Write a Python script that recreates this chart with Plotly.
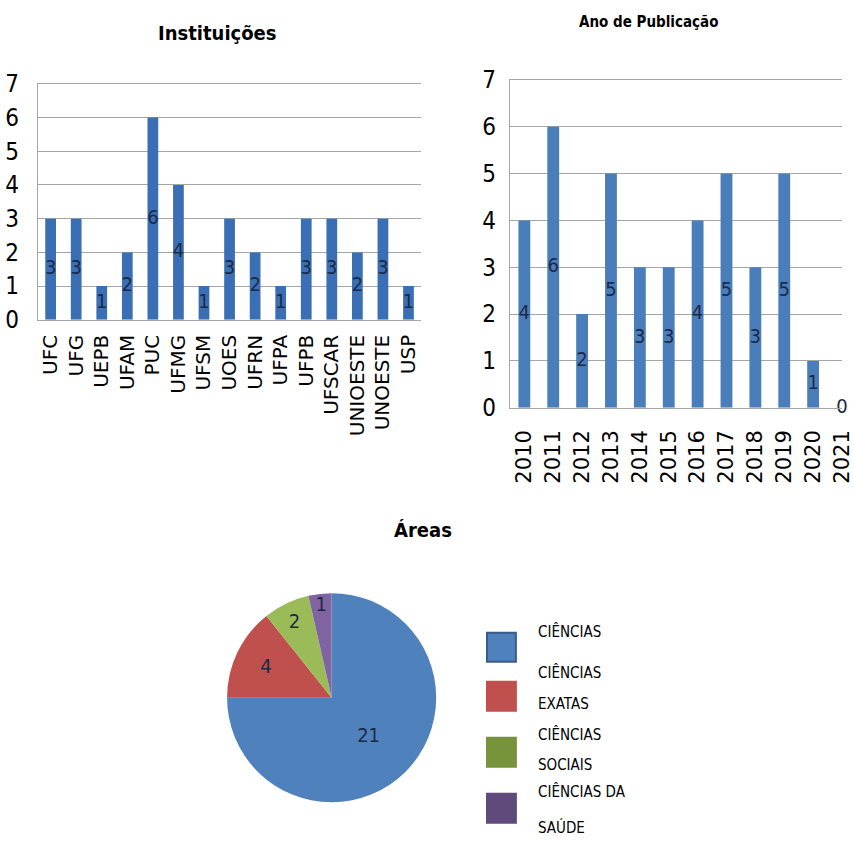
import plotly.graph_objects as go

# ---------------- data ----------------
inst_labels = ["UFC", "UFG", "UEPB", "UFAM", "PUC", "UFMG", "UFSM", "UOES",
               "UFRN", "UFPA", "UFPB", "UFSCAR", "UNIOESTE", "UNOESTE", "USP"]
inst_values = [3, 3, 1, 2, 6, 4, 1, 3, 2, 1, 3, 3, 2, 3, 1]

year_labels = ["2010", "2011", "2012", "2013", "2014", "2015", "2016",
               "2017", "2018", "2019", "2020", "2021"]
year_values = [4, 6, 2, 5, 3, 3, 4, 5, 3, 5, 1, 0]

area_labels = ["CIÊNCIAS", "CIÊNCIAS EXATAS", "CIÊNCIAS SOCIAIS", "CIÊNCIAS DA SAÚDE"]
area_values = [21, 4, 2, 1]
area_colors = ["#4F81BD", "#C0504D", "#9BBB59", "#8064A2"]
legend_colors = ["#4F81BD", "#C0504D", "#77933C", "#604A7B"]
legend_borders = ["#385D8A", "#C0504D", "#77933C", "#604A7B"]
legend_lines = [["CIÊNCIAS"], ["CIÊNCIAS", "EXATAS"], ["CIÊNCIAS", "SOCIAIS"],
                ["CIÊNCIAS DA", "SAÚDE"]]

W, H = 854, 842
# compensation for the capture scaling observed
SX, SY, OY = 0.99, 0.967, 14.6
NARROW = "DejaVu Sans Condensed, Roboto, sans-serif"
TICKX = "DejaVu Sans, Verdana, sans-serif"
LABEL_COLOR = "#1B2A47"
GRID = "#A6A6A6"


def px_x(x):
    return min(1.0, max(0.0, (x / SX) / W))


def px_y(y):
    return min(1.0, max(0.0, 1 - (y / SY - OY) / H))


fig = go.Figure()

# ---- Instituições bar chart ----
fig.add_trace(go.Bar(x=inst_labels, y=inst_values, marker=dict(color="#3A6FB5", line=dict(width=0)),
                     width=0.42, xaxis="x", yaxis="y", showlegend=False, hoverinfo="skip"))
fig.add_trace(go.Scatter(x=inst_labels, y=[v / 2 for v in inst_values], text=[str(v) for v in inst_values],
                         mode="text", textfont=dict(family=NARROW, size=20, color=LABEL_COLOR),
                         xaxis="x", yaxis="y", showlegend=False, cliponaxis=False, hoverinfo="skip"))

# ---- Ano de Publicação bar chart ----
fig.add_trace(go.Bar(x=year_labels, y=year_values, marker=dict(color="#4A7EBB", line=dict(width=0)),
                     width=0.41, xaxis="x2", yaxis="y2", showlegend=False, hoverinfo="skip"))
fig.add_trace(go.Scatter(x=year_labels, y=[v / 2 for v in year_values], text=[str(v) for v in year_values],
                         mode="text", textfont=dict(family=NARROW, size=20, color=LABEL_COLOR),
                         xaxis="x2", yaxis="y2", showlegend=False, cliponaxis=False, hoverinfo="skip"))

# ---- Áreas pie ----
d = 210
cx, cy = 333, 698
fig.add_trace(go.Pie(labels=area_labels, values=area_values, sort=False, direction="clockwise",
                     rotation=0, marker=dict(colors=area_colors, line=dict(width=0)),
                     textinfo="value", textposition="inside", insidetextorientation="horizontal",
                     textfont=dict(family=NARROW, size=20, color=LABEL_COLOR),
                     domain=dict(x=[px_x(cx - d / 2), px_x(cx + d / 2)],
                                 y=[px_y(cy + d / 2), px_y(cy - d / 2)]),
                     showlegend=False, hoverinfo="skip"))

axis_common = dict(showgrid=False, zeroline=False, ticks="", fixedrange=True)

fig.update_layout(
    width=W, height=H, margin=dict(l=0, r=0, t=0, b=0, pad=0),
    paper_bgcolor="white", plot_bgcolor="white",
    uniformtext=dict(minsize=18, mode="show"),
    xaxis=dict(domain=[px_x(38), px_x(423)], range=[-0.5, 14.5], tickangle=-90,
               tickfont=dict(family=TICKX, size=20, color="#000"), showline=True, mirror=True,
               linecolor=GRID, linewidth=1, ticklabelstandoff=6, **axis_common),
    yaxis=dict(domain=[px_y(320), px_y(84)], range=[0, 7], dtick=1, showgrid=True, gridcolor=GRID,
               gridwidth=1, showline=True, linecolor=GRID, linewidth=1,
               tickfont=dict(family=NARROW, size=24, color="#000"),
               ticklabelstandoff=13, zeroline=False, ticks="", fixedrange=True),
    xaxis2=dict(domain=[px_x(512), 1.0], range=[-0.5, 11.0], tickangle=-90,
                tickfont=dict(family=TICKX, size=21, color="#000"), showline=True, mirror=True,
                linecolor=GRID, linewidth=1, ticklabelstandoff=13, anchor="y2", **axis_common),
    yaxis2=dict(domain=[px_y(408), px_y(80)], range=[0, 7], dtick=1, showgrid=True, gridcolor=GRID,
                gridwidth=1, showline=True, linecolor=GRID, linewidth=1, anchor="x2",
                tickfont=dict(family=NARROW, size=24, color="#000"),
                ticklabelstandoff=8, zeroline=False, ticks="", fixedrange=True),
)

annotations = [
    dict(text="<b>Instituições</b>", x=px_x(218), y=px_y(33), xref="paper", yref="paper",
         showarrow=False, font=dict(family=NARROW, size=20, color="#000"), xanchor="center", yanchor="middle"),
    dict(text="<b>Ano de Publicação</b>", x=px_x(651), y=px_y(22), xref="paper", yref="paper",
         showarrow=False, font=dict(family=NARROW, size=15, color="#000"), xanchor="center", yanchor="middle"),
    dict(text="<b>Áreas</b>", x=px_x(425), y=px_y(530), xref="paper", yref="paper",
         showarrow=False, font=dict(family=NARROW, size=20, color="#000"), xanchor="center", yanchor="middle"),
]

# manual legend
square_tops = [633, 682, 738, 794]
line_ys = [[632], [673, 704], [735, 765], [792, 828]]
shapes = []
for i, col in enumerate(legend_colors):
    top = square_tops[i]
    shapes.append(dict(type="rect", xref="paper", yref="paper", x0=px_x(489), x1=px_x(518),
                       y0=px_y(top + 29), y1=px_y(top), fillcolor=col,
                       line=dict(color=legend_borders[i], width=2)))
    for line_text, ly in zip(legend_lines[i], line_ys[i]):
        annotations.append(dict(text=line_text, x=px_x(538), y=px_y(ly), xref="paper", yref="paper",
                                showarrow=False, xanchor="left", yanchor="middle",
                                font=dict(family=NARROW, size=15, color="#000")))

fig.update_layout(annotations=annotations, shapes=shapes)

fig.write_html("out.html")
